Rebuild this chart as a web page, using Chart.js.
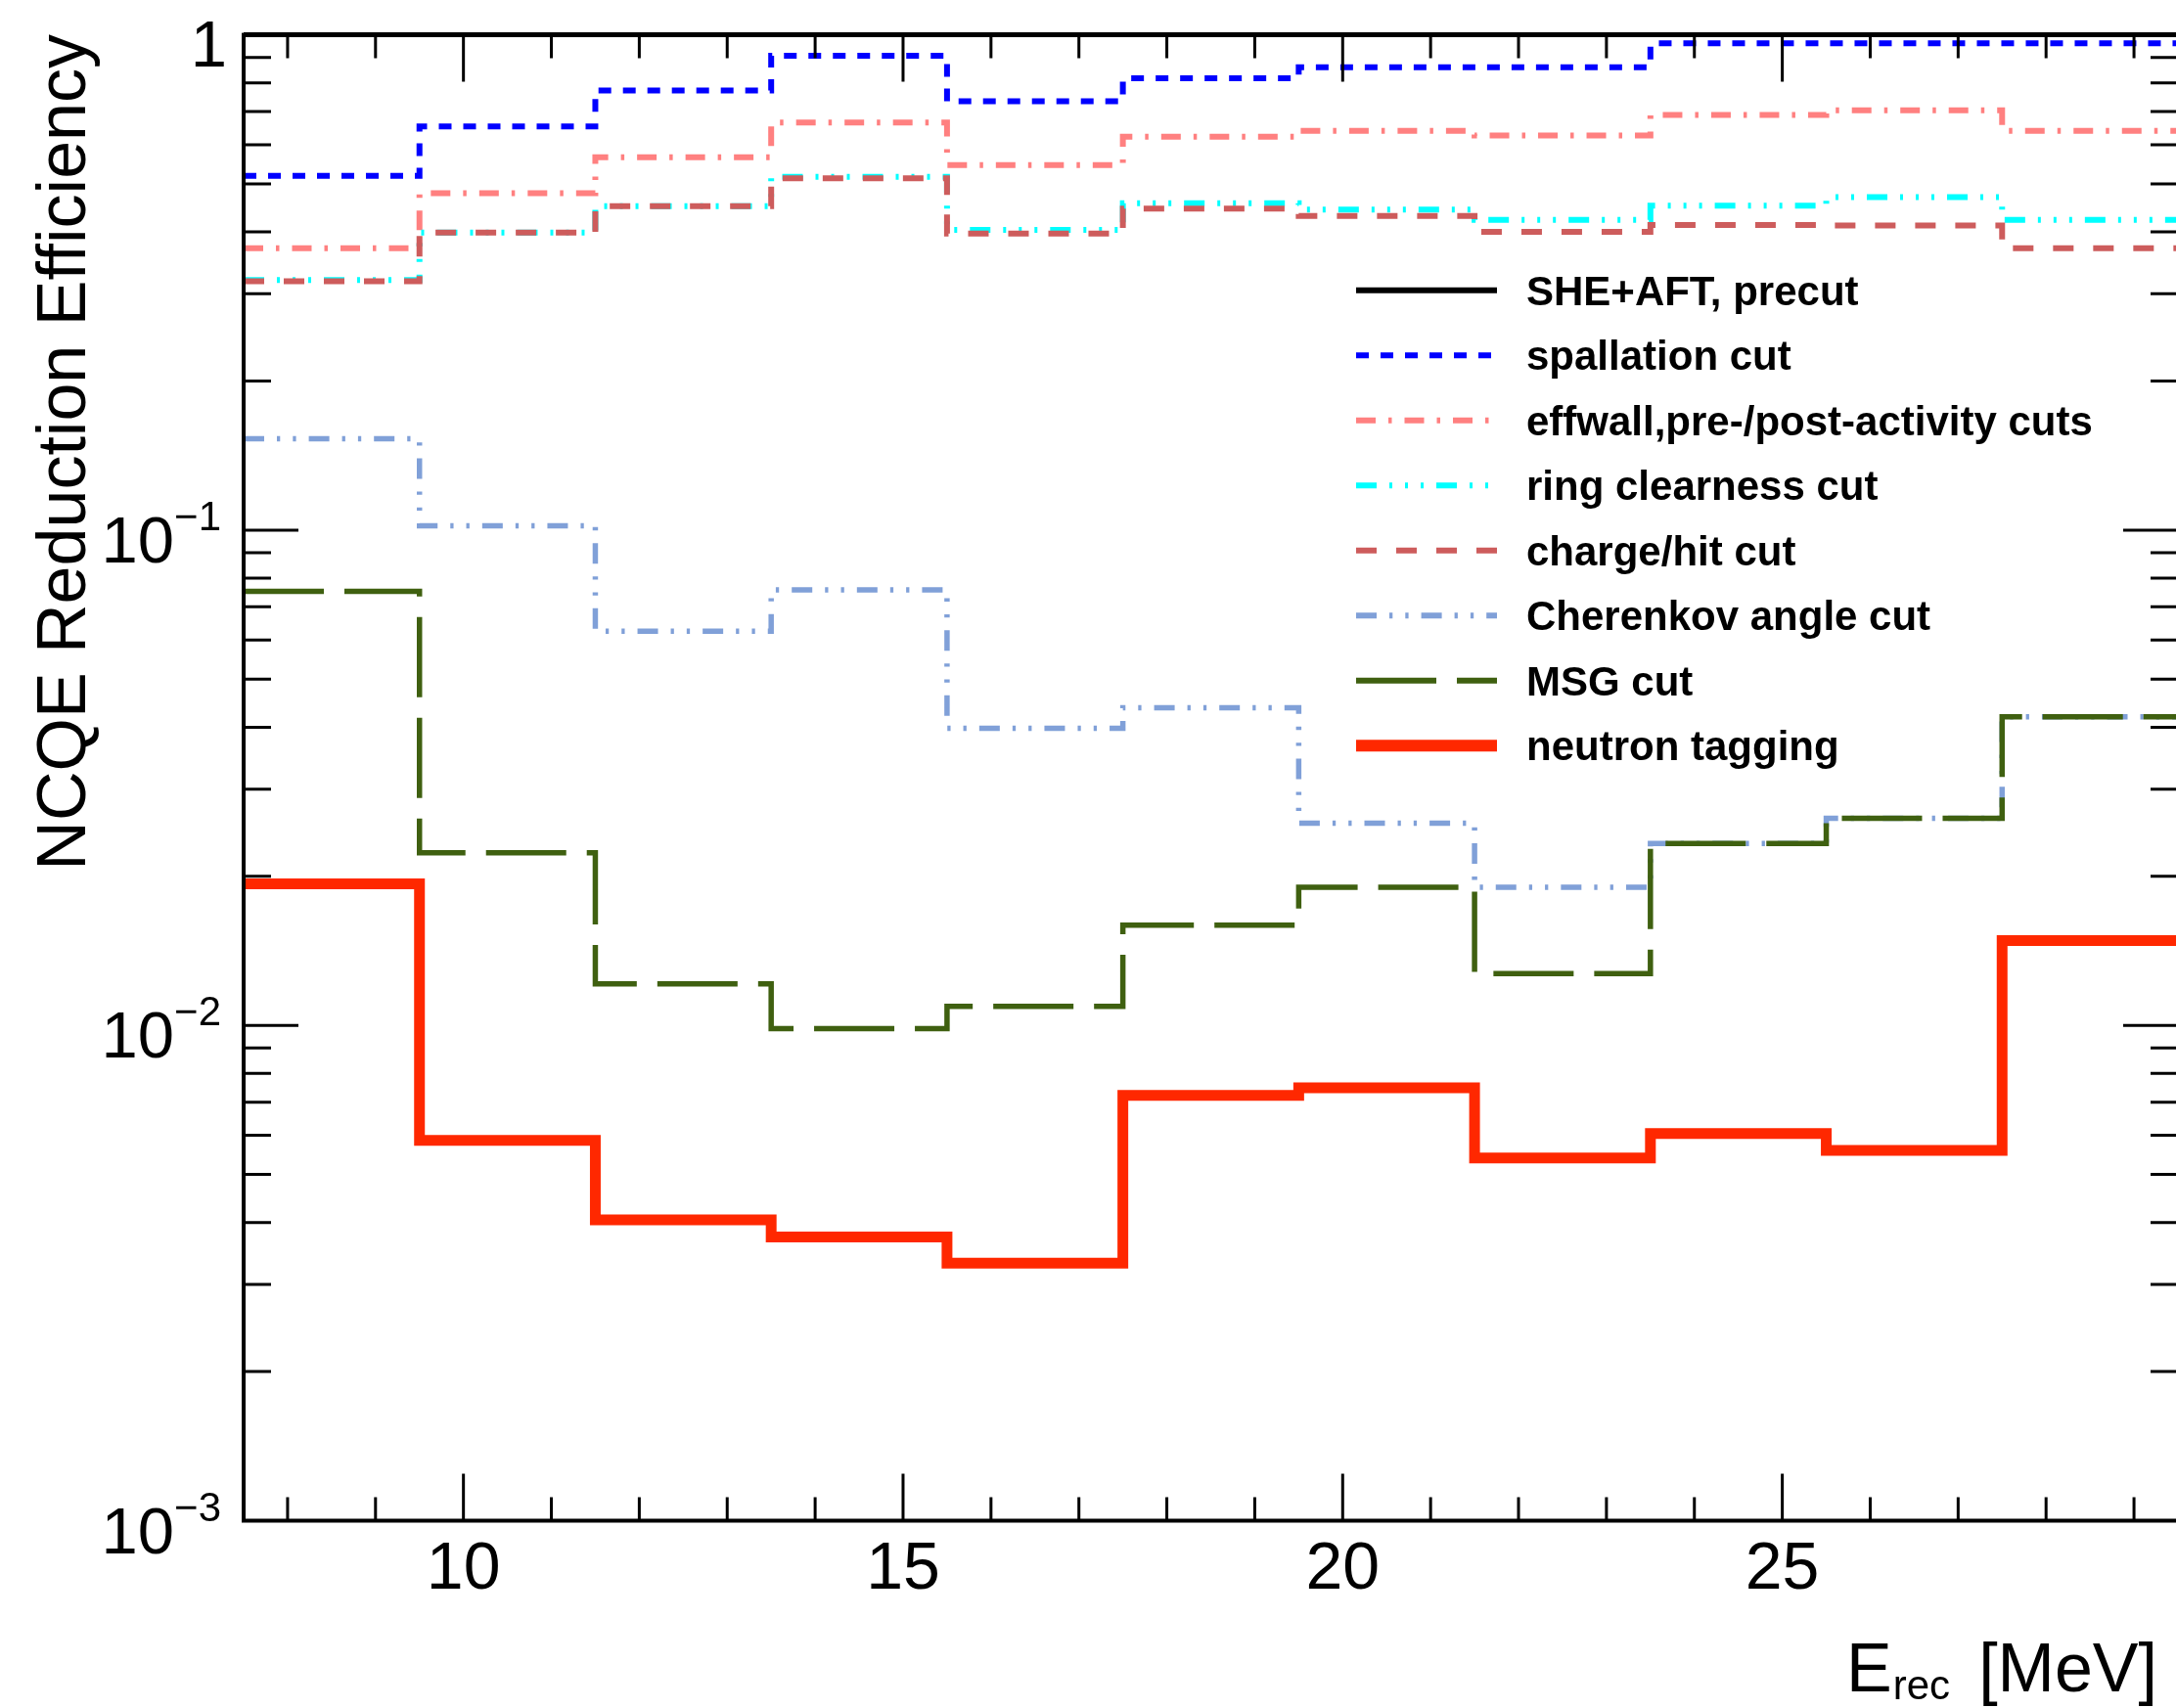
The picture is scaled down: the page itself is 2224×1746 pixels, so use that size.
<!DOCTYPE html>
<html>
<head>
<meta charset="utf-8">
<script src="https://cdn.jsdelivr.net/npm/chart.js@4.4.1/dist/chart.umd.min.js"></script>
<style>
  html, body { margin: 0; padding: 0; background: #fff; overflow: hidden; }
  #wrap { width: 2228px; height: 1746px; }
</style>
</head>
<body>
<div id="wrap"><canvas id="effChart" width="2228" height="1746"></canvas></div>
<script>
// 2 MeV bins, edges in MeV
const binEdges = [7.5, 9.5, 11.5, 13.5, 15.5, 17.5, 19.5, 21.5, 23.5, 25.5, 27.5, 29.5];

// efficiency per bin
const precut     = [1, 1, 1, 1, 1, 1, 1, 1, 1, 1, 1];
const spallation = [0.519, 0.653, 0.772, 0.907, 0.734, 0.817, 0.860, 0.860, 0.961, 0.961, 0.961];
const effwall    = [0.371, 0.479, 0.566, 0.665, 0.546, 0.623, 0.640, 0.626, 0.689, 0.704, 0.640];
const ringClear  = [0.320, 0.399, 0.451, 0.517, 0.404, 0.457, 0.444, 0.423, 0.452, 0.470, 0.423];
const chargeHit  = [0.318, 0.399, 0.451, 0.513, 0.397, 0.446, 0.431, 0.400, 0.413, 0.412, 0.371];
const cherenkov  = [0.153, 0.102, 0.0625, 0.0757, 0.0398, 0.0438, 0.0256, 0.0190, 0.0233, 0.0262, 0.0420];
const msgCut     = [0.0752, 0.0223, 0.01213, 0.00985, 0.01093, 0.01594, 0.0190, 0.01272, 0.0233, 0.0262, 0.0420];
const neutronTag = [0.0193, 0.00586, 0.00405, 0.00374, 0.00331, 0.00722, 0.00748, 0.0054, 0.00605, 0.00559, 0.01483];

const seriesLabels = ['SHE+AFT, precut', 'spallation cut', 'effwall,pre-/post-activity cuts',
    'ring clearness cut', 'charge/hit cut', 'Cherenkov angle cut', 'MSG cut', 'neutron tagging'];

// axis ticks
const xMajorTicks = [10, 15, 20, 25];
const xTickLabels = ['10', '15', '20', '25'];
const yMajorTicks = [1, 0.1, 0.01, 0.001];
const yTickBase = ['1', '10', '10', '10'];
const yTickExp = ['', '\u22121', '\u22122', '\u22123'];

const FONT = '"Liberation Sans", Arial, Helvetica, sans-serif';

// step histogram: one point per left edge plus the closing right edge
function histPoints(vals) {
    const pts = vals.map((v, i) => ({ x: binEdges[i], y: v }));
    pts.push({ x: binEdges[vals.length], y: vals[vals.length - 1] });
    return pts;
}

function hist(label, vals, color, width, dash, order) {
    return {
        label: label,
        data: histPoints(vals),
        borderColor: color,
        borderWidth: width,
        borderDash: dash,
        borderCapStyle: 'butt',
        borderJoinStyle: 'miter',
        stepped: true,
        pointRadius: 0,
        fill: false,
        tension: 0,
        order: order
    };
}

const datasets = [
    hist(seriesLabels[0], precut, '#000000', 5, [], 7),
    hist(seriesLabels[1], spallation, '#0000ff', 6, [13, 12], 6),
    hist(seriesLabels[2], effwall, '#ff8080', 6, [20, 13, 3.5, 13], 5),
    hist(seriesLabels[3], ringClear, '#00ffff', 6, [21, 13, 3, 13, 3, 13, 3, 13], 4),
    hist(seriesLabels[4], chargeHit, '#cd5c5c', 6, [21, 20], 3),
    hist(seriesLabels[5], cherenkov, '#80a0d8', 5.5, [21, 13, 3.3, 13, 3.3, 13], 2),
    hist(seriesLabels[6], msgCut, '#3f6010', 5.5, [82, 21], 1),
    hist(seriesLabels[7], neutronTag, '#ff2800', 11, [], 0)
];
datasets[0].clip = false;

// ROOT-like frame, inward ticks, labels, titles and legend
const rootFrame = {
    id: 'rootFrame',
    afterDatasetsDraw(chart) {
        const ctx = chart.ctx;
        const a = chart.chartArea;
        const xs = chart.scales.x;
        const ys = chart.scales.y;
        ctx.save();
        ctx.strokeStyle = '#000';
        ctx.fillStyle = '#000';
        ctx.lineCap = 'butt';
        ctx.setLineDash([]);

        // ticks
        ctx.lineWidth = 3;
        ctx.beginPath();
        for (let v = 8; v <= 29; v++) {
            const px = xs.getPixelForValue(v);
            const len = xMajorTicks.includes(v) ? 48 : 24;
            ctx.moveTo(px, a.bottom); ctx.lineTo(px, a.bottom - len);
            ctx.moveTo(px, a.top); ctx.lineTo(px, a.top + len);
        }
        yMajorTicks.forEach(v => {
            const py = ys.getPixelForValue(v);
            ctx.moveTo(a.left, py); ctx.lineTo(a.left + 56, py);
            ctx.moveTo(a.right, py); ctx.lineTo(a.right - 56, py);
        });
        [0.1, 0.01, 0.001].forEach(b => {
            for (let k = 2; k <= 9; k++) {
                const py = ys.getPixelForValue(k * b);
                ctx.moveTo(a.left, py); ctx.lineTo(a.left + 28, py);
                ctx.moveTo(a.right, py); ctx.lineTo(a.right - 28, py);
            }
        });
        ctx.stroke();

        // frame
        ctx.lineWidth = 4;
        ctx.strokeRect(a.left, a.top, a.right - a.left, a.bottom - a.top);

        // y tick labels
        ctx.textBaseline = 'alphabetic';
        yMajorTicks.forEach((v, i) => {
            const py = ys.getPixelForValue(v);
            ctx.textAlign = 'right';
            if (yTickExp[i] === '') {
                ctx.font = '67px ' + FONT;
                ctx.fillText(yTickBase[i], 232, py + 32);
            } else {
                ctx.font = '42px ' + FONT;
                const w = ctx.measureText(yTickExp[i]).width;
                ctx.fillText(yTickExp[i], 226, py);
                ctx.font = '67px ' + FONT;
                ctx.fillText(yTickBase[i], 226 - w, py + 33);
            }
        });

        // x tick labels
        ctx.font = '68px ' + FONT;
        ctx.textAlign = 'center';
        xMajorTicks.forEach((v, i) => {
            ctx.fillText(xTickLabels[i], xs.getPixelForValue(v), a.bottom + 69);
        });

        // x title: E_rec [MeV]
        ctx.textAlign = 'left';
        ctx.font = '70px ' + FONT;
        ctx.fillText('E', 1887, 1729);
        const wE = ctx.measureText('E').width;
        ctx.font = '42px ' + FONT;
        ctx.fillText('rec', 1887 + wE + 1, 1737);
        ctx.font = '70px ' + FONT;
        ctx.textAlign = 'right';
        ctx.fillText('[MeV]', 2205, 1729);

        // y title
        ctx.save();
        ctx.translate(87, 35);
        ctx.rotate(-Math.PI / 2);
        ctx.font = '70px ' + FONT;
        ctx.textAlign = 'right';
        ctx.fillText('NCQE Reduction Efficiency', 0, 0);
        ctx.restore();

        // legend
        chart.data.datasets.forEach((ds, i) => {
            const cy = 296.7 + i * 66.5;
            ctx.strokeStyle = ds.borderColor;
            ctx.lineWidth = i === 7 ? 12 : 6;
            ctx.setLineDash(ds.borderDash || []);
            ctx.beginPath();
            ctx.moveTo(1386, cy);
            ctx.lineTo(1530, cy);
            ctx.stroke();
            ctx.setLineDash([]);
            ctx.fillStyle = '#000';
            ctx.font = 'bold 42px ' + FONT;
            ctx.textAlign = 'left';
            ctx.fillText(ds.label, 1560, cy + 15);
        });
        ctx.restore();
    }
};

new Chart(document.getElementById('effChart'), {
    type: 'line',
    data: { datasets: datasets },
    options: {
        responsive: false,
        animation: false,
        devicePixelRatio: 1,
        layout: { padding: { left: 249, right: 2, top: 35.6, bottom: 191.5 } },
        plugins: { legend: { display: false }, tooltip: { enabled: false }, title: { display: false } },
        scales: {
            x: { type: 'linear', min: 7.5, max: 29.5, display: false },
            y: { type: 'logarithmic', min: 0.001, max: 1, display: false }
        }
    },
    plugins: [rootFrame]
});
</script>
</body>
</html>
